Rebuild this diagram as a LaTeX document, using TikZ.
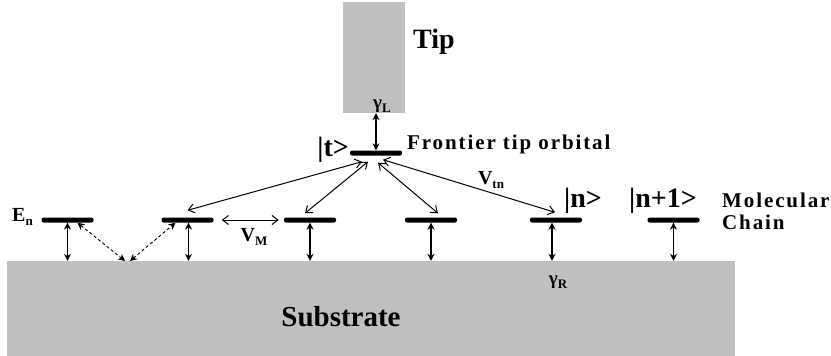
\documentclass[tikz,border=0pt]{standalone}
\usepackage{fontspec}
\setmainfont{Liberation Serif}
\newfontfamily\widefont[LetterSpace=9]{Liberation Serif Bold}
\usetikzlibrary{arrows.meta,positioning}
\definecolor{SubGray}{HTML}{C0C0C0}
\newcommand{\lsub}[1]{\raisebox{-0.45ex}{\fontsize{13}{13}\selectfont #1}}

\begin{document}
\begin{tikzpicture}[x=1pt,y=-1pt,
    level/.style={fill=black,rounded corners=2pt,minimum width=52pt,minimum height=5pt,inner sep=0pt},
    block/.style={fill=SubGray,inner sep=0pt},
    lbl/.style={font=\bfseries\fontsize{20}{20}\selectfont,inner sep=0pt},
    wlbl/.style={font=\widefont\fontsize{21}{21}\selectfont,inner sep=0pt},
    ket/.style={font=\bfseries\fontsize{28}{28}\selectfont,inner sep=0pt},
    couple/.style={line width=1.1pt,{Stealth[length=7pt,width=7pt]}-{Stealth[length=7pt,width=7pt]}},
    hop/.style={line width=1pt,{Straight Barb[length=6pt,width=9pt]}-{Straight Barb[length=6pt,width=9pt]}},
  ]
  \useasboundingbox (0,0) rectangle (831,356);
  % Tip and substrate blocks
  \node[block,minimum width=62pt,minimum height=111pt] (tip) at (374,57.5) {};
  \node[block,minimum width=728pt,minimum height=95pt] (sub) at (371,308.5) {};
  \node[font=\bfseries\fontsize{28}{28}\selectfont,inner sep=0pt] (tiptxt) at (434,42) {Tip};
  \node[font=\bfseries\fontsize{29}{29}\selectfont,inner sep=0pt] (subtxt) at (341,317) {Substrate};
  % Frontier tip orbital
  \node[level] (tb) at (376,153) {};
  \node[ket,anchor=east] (tket) at (349,150) {|t>};
  \node[wlbl,anchor=west] (fto) at (407,144) {Frontier tip orbital};
  \draw[couple] (tb.north |- tip.south) -- (tb.north);
  \node[lbl,font=\bfseries\fontsize{19}{19}\selectfont] (gl) at (382,106) {γ\lsub{L}};
  % Molecular chain levels
  \foreach \n/\x in {1/67.5,2/187.5,3/310,4/431,5/556,6/673.5}
    \node[level] (b\n) at (\x,220) {};
  \foreach \n/\s in {1/0,2/1,3/0,4/0,5/-4,6/0}
    \draw[couple] ([xshift=\s pt]b\n.south) -- ([xshift=\s pt]b\n.south |- sub.north);
  % Substrate mediated coupling (dashed)
  \coordinate (dip) at (127.5,261);
  \draw[couple,dash pattern=on 3pt off 2.5pt,line width=0.9pt] ([xshift=10pt]b1.south) -- ([xshift=-2.5pt]dip);
  \draw[couple,dash pattern=on 3pt off 2.5pt,line width=0.9pt] ([xshift=2.5pt]dip) -- ([xshift=-12pt]b2.south);
  % Nearest neighbour coupling
  \draw[hop,shorten <=8pt,shorten >=5pt] (b2.east) -- (b3.west);
  \node[lbl] (vm) at (254,237) {V\lsub{M}};
  % Tip to chain couplings
  \draw[hop] ([xshift=-14pt,yshift=-6pt]tb.south) -- ([yshift=7pt]b2.north);
  \draw[hop] ([xshift=-8pt,yshift=-6pt]tb.south) -- ([xshift=-5pt,yshift=4pt]b3.north);
  \draw[hop] ([xshift=2pt,yshift=-7pt]tb.south) -- ([xshift=7pt,yshift=4pt]b4.north);
  \draw[hop] ([xshift=7pt,yshift=-4pt]tb.south) -- ([xshift=-1pt,yshift=5pt]b5.north);
  \node[lbl] (vtn) at (491,180) {V\lsub{tn}};
  % Labels
  \node[lbl,anchor=east] (en) at (33,217) {E\lsub{n}};
  \node[ket] (nket) at (583,201) {|n>};
  \node[ket] (n1ket) at (663,201) {|n+1>};
  \node[lbl,font=\bfseries\fontsize{19}{19}\selectfont] (gr) at (558,282) {γ\lsub{R}};
  \node[wlbl,anchor=west] (mol) at (722,200) {Molecular};
  \node[wlbl,anchor=west] (chain) at (722,222) {Chain};
\end{tikzpicture}
\end{document}
